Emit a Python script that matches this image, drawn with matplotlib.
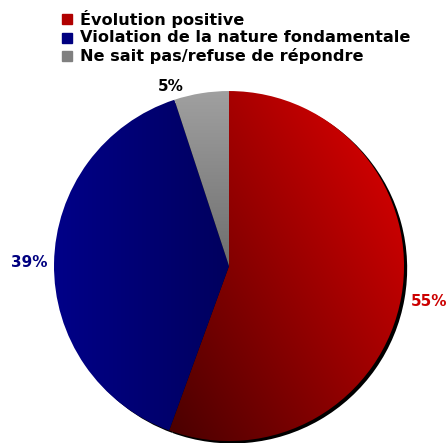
import numpy as np
import matplotlib.pyplot as plt
import matplotlib.colors as mcolors

# answers (%), as printed on the chart
labels = ['Évolution positive', 'Violation de la nature fondamentale',
          'Ne sait pas/refuse de répondre']
values = [55, 39, 5]
pct_text = ['55%', '39%', '5%']

# gradient ends for each slice: dark end, light end
grad_dark = ['#480000', '#00005e', '#6e6e6e']
grad_light = ['#cc0000', '#000088', '#a0a0a0']
# direction of the gradient (towards the light end)
grad_dir = [(0.85, 0.5), (-1.0, 0.0), (0.0, 1.0)]
grad_rng = [(-0.8, 1.0), (0.0, 1.0), (0.0, 1.0)]
label_col = ['#cc0000', '#000080', '#000000']

fig = plt.figure(figsize=(4.48, 4.43), dpi=100)
ax = fig.add_axes([0.0229, 0.0045, 0.9766, 0.79])
ax.axis('off')

# shadow
ax.pie(values, startangle=90, counterclock=False, colors=['black'] * 3,
       center=(0.018, -0.014), radius=1.0, wedgeprops=dict(linewidth=0))

wedges, _ = ax.pie(values, startangle=90, counterclock=False,
                   colors=['none'] * 3, radius=1.0,
                   wedgeprops=dict(linewidth=0))
ax.set_xlim(-1.25, 1.25)
ax.set_ylim(-1.0, 1.0)
ax.set_aspect('auto')

xx, yy = np.meshgrid(np.linspace(-1, 1, 400), np.linspace(-1, 1, 400))
for i, w in enumerate(wedges):
    dx, dy = grad_dir[i]
    p = dx * xx + dy * yy
    lo, hi = grad_rng[i]
    t = np.clip((p - lo) / (hi - lo), 0, 1)
    c0 = np.array(mcolors.to_rgb(grad_dark[i]))
    c1 = np.array(mcolors.to_rgb(grad_light[i]))
    img = c0 + (c1 - c0) * t[..., None]
    im = ax.imshow(img, extent=(-1, 1, -1, 1), origin='lower',
                   interpolation='bilinear', aspect='auto', zorder=2)
    im.set_clip_path(w)

# percentage labels
label_r = [1.16, 1.14, 1.08]
label_shift = [0, 0, 9]
for i, w in enumerate(wedges):
    ang = np.deg2rad((w.theta1 + w.theta2) / 2 + label_shift[i])
    ax.text(label_r[i] * np.cos(ang), label_r[i] * np.sin(ang), pct_text[i],
            color=label_col[i], fontsize=11, fontweight='bold',
            ha='center', va='center', zorder=5)

# legend at the top
mid_col = ['#b00000', '#000080', '#808080']
for i, lab in enumerate(labels):
    y = 1 - (19 + 18.5 * i) / 443
    fig.patches.append(plt.Rectangle((62 / 448, y - 5 / 443), 10 / 448, 10 / 443,
                                     transform=fig.transFigure, color=mid_col[i]))
    fig.text(80 / 448, y, lab, fontsize=11.6, fontweight='bold',
             ha='left', va='center', color='#000000')

fig.savefig('out.png', dpi=100)
